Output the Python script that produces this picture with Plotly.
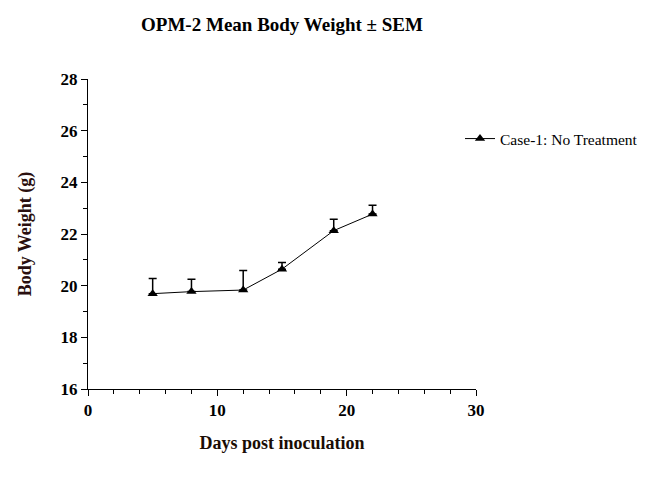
import plotly.graph_objects as go

days = [5, 8, 12, 15, 19, 22]
mean_weight = [19.69, 19.77, 19.83, 20.64, 22.13, 22.77]
sem = [0.59, 0.48, 0.76, 0.26, 0.44, 0.34]
series_name = "Case-1: No Treatment"

font_family = "Liberation Serif, Times New Roman, serif"

fig = go.Figure()
fig.add_trace(go.Scatter(
    x=days, y=mean_weight, name=series_name, mode="lines+markers",
    line=dict(color="black", width=1),
    marker=dict(symbol="triangle-up", size=9, color="black"),
    error_y=dict(type="data", array=sem, arrayminus=[0]*len(sem), symmetric=False,
                 color="black", thickness=1.5, width=4),
))

fig.update_layout(
    width=652, height=486,
    margin=dict(l=88, r=176, t=79, b=97, autoexpand=False),
    paper_bgcolor="white", plot_bgcolor="white",
    font=dict(family=font_family, color="black"),
    title=dict(text="<b>OPM-2 Mean Body Weight ± SEM</b>", x=0.5, xref="paper",
               y=1 - 24/486, yanchor="middle", font=dict(size=19, color="black")),
    showlegend=True,
    legend=dict(x=(460-88)/388, y=1 - (139-79)/310, xanchor="left", yanchor="middle",
                font=dict(size=15.5, color="black"), bgcolor="rgba(0,0,0,0)",
                itemwidth=30),
    xaxis=dict(range=[0, 30], tickvals=[0, 10, 20, 30],
               showgrid=False, zeroline=False, showline=True, linecolor="black", linewidth=1,
               ticks="outside", ticklen=6, tickcolor="black", tickwidth=1,
               minor=dict(dtick=2, ticks="outside", ticklen=4, tickcolor="black", tickwidth=1),
               tickfont=dict(size=17, family=font_family, color="black", weight="bold"),
               title=dict(text="<b>Days post inoculation</b>", font=dict(size=18, color="#1a0d05"), standoff=16)),
    yaxis=dict(range=[16, 28], tickvals=[16, 18, 20, 22, 24, 26, 28],
               showgrid=False, zeroline=False, showline=True, linecolor="black", linewidth=1,
               ticks="outside", ticklen=6, tickcolor="black", tickwidth=1,
               minor=dict(dtick=1, ticks="outside", ticklen=4, tickcolor="black", tickwidth=1),
               tickfont=dict(size=17, family=font_family, color="black", weight="bold"),
               title=dict(text="<b>Body Weight (g)</b>", font=dict(size=18, color="#2a0f0f"), standoff=24)),
)

fig.write_html("out.html")
